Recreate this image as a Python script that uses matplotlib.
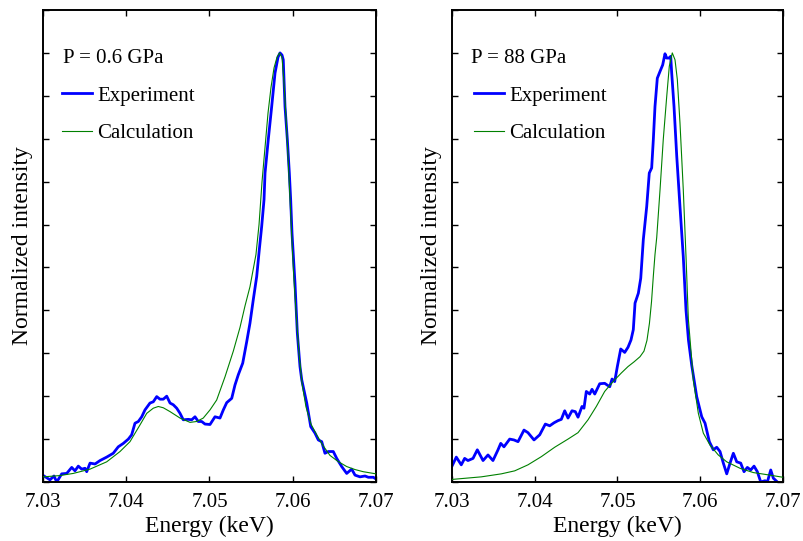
import matplotlib
matplotlib.use("Agg")
import matplotlib.pyplot as plt
from matplotlib.ticker import FormatStrFormatter

# ---------------- data ----------------
pressures = ["P = 0.6 GPa", "P = 88 GPa"]
x_ticks = [7.03, 7.04, 7.05, 7.06, 7.07]
y_ticks = [0.0, 0.1, 0.2, 0.3, 0.4, 0.5, 0.6, 0.7, 0.8, 0.9, 1.0, 1.1]

exp1_E = [7.03012, 7.03084, 7.03132, 7.03165, 7.03225, 7.03285, 7.03345, 7.03384, 7.03424, 7.03465,
          7.03505, 7.03525, 7.03565, 7.03625, 7.03685, 7.03765, 7.03844, 7.03904, 7.03965, 7.04025,
          7.04065, 7.04105, 7.04145, 7.04186, 7.04225, 7.04285, 7.04325, 7.04366, 7.04405, 7.04445,
          7.04486, 7.04526, 7.04565, 7.04606, 7.04646, 7.04685, 7.04745, 7.04786, 7.04826, 7.04865,
          7.04906, 7.04946, 7.05006, 7.05066, 7.05126, 7.05166, 7.05207, 7.05267, 7.05306, 7.05346,
          7.05399, 7.05447, 7.05486, 7.05526, 7.05567, 7.05598, 7.05627, 7.05655, 7.05667, 7.05706,
          7.05747, 7.05787, 7.05823, 7.05847, 7.05871, 7.05886, 7.05907, 7.05935, 7.05959, 7.05975,
          7.05991, 7.06027, 7.06055, 7.06087, 7.06108, 7.06168, 7.06216, 7.06267, 7.06307, 7.06348,
          7.06387, 7.06427, 7.06487, 7.06528, 7.06588, 7.06648, 7.06708, 7.06748, 7.06808, 7.06868,
          7.06908, 7.06968, 7.07000]
exp1_I = [0.014, 0.005, 0.014, 0.000, 0.019, 0.020, 0.034, 0.026, 0.037, 0.030,
          0.032, 0.024, 0.044, 0.042, 0.050, 0.058, 0.067, 0.082, 0.090, 0.100,
          0.110, 0.137, 0.141, 0.152, 0.168, 0.184, 0.187, 0.199, 0.193, 0.193,
          0.200, 0.184, 0.180, 0.172, 0.160, 0.145, 0.146, 0.145, 0.152, 0.141,
          0.141, 0.135, 0.134, 0.152, 0.149, 0.168, 0.185, 0.195, 0.226, 0.250,
          0.277, 0.327, 0.370, 0.425, 0.479, 0.541, 0.596, 0.658, 0.720, 0.798,
          0.875, 0.953, 0.990, 1.000, 0.995, 0.984, 0.875, 0.798, 0.720, 0.658,
          0.580, 0.463, 0.347, 0.269, 0.238, 0.184, 0.129, 0.114, 0.098, 0.094,
          0.067, 0.071, 0.071, 0.055, 0.036, 0.020, 0.030, 0.016, 0.012, 0.014,
          0.011, 0.011, 0.007]

calc1_E = [7.03004, 7.03204, 7.03364, 7.03565, 7.03765, 7.03925, 7.04045, 7.04165, 7.04246, 7.04325,
           7.04385, 7.04445, 7.04526, 7.04646, 7.04766, 7.04846, 7.04925, 7.05006, 7.05086, 7.05186,
           7.05286, 7.05366, 7.05426, 7.05486, 7.05558, 7.05595, 7.05631, 7.05667, 7.05703, 7.05739,
           7.05775, 7.05811, 7.05841, 7.05871, 7.05895, 7.05919, 7.05943, 7.05967, 7.05991, 7.06015,
           7.06045, 7.06075, 7.06111, 7.06159, 7.06219, 7.06287, 7.06363, 7.06447, 7.06543, 7.06648,
           7.06748, 7.06847, 7.07000]
calc1_I = [0.012, 0.015, 0.020, 0.030, 0.047, 0.071, 0.094, 0.133, 0.160, 0.172,
           0.176, 0.173, 0.164, 0.149, 0.139, 0.141, 0.149, 0.168, 0.191, 0.245,
           0.305, 0.360, 0.410, 0.455, 0.530, 0.600, 0.700, 0.780, 0.860, 0.920,
           0.965, 0.990, 1.000, 0.990, 0.930, 0.850, 0.760, 0.660, 0.560, 0.470,
           0.380, 0.300, 0.230, 0.175, 0.135, 0.110, 0.085, 0.062, 0.048, 0.036,
           0.029, 0.024, 0.019]

exp2_E = [7.03000, 7.03052, 7.03112, 7.03153, 7.03193, 7.03254, 7.03306, 7.03375, 7.03435, 7.03495,
          7.03556, 7.03589, 7.03628, 7.03697, 7.03749, 7.03798, 7.03870, 7.03918, 7.03991, 7.04060,
          7.04128, 7.04181, 7.04233, 7.04281, 7.04321, 7.04362, 7.04402, 7.04450, 7.04490, 7.04523,
          7.04571, 7.04595, 7.04623, 7.04664, 7.04692, 7.04725, 7.04785, 7.04845, 7.04906, 7.04934,
          7.04966, 7.04998, 7.05039, 7.05087, 7.05127, 7.05163, 7.05191, 7.05212, 7.05252, 7.05281,
          7.05312, 7.05353, 7.05384, 7.05413, 7.05433, 7.05453, 7.05481, 7.05514, 7.05546, 7.05574,
          7.05595, 7.05622, 7.05643, 7.05655, 7.05683, 7.05716, 7.05755, 7.05795, 7.05828, 7.05858,
          7.05897, 7.05957, 7.06018, 7.06058, 7.06110, 7.06158, 7.06199, 7.06239, 7.06279, 7.06320,
          7.06360, 7.06400, 7.06441, 7.06489, 7.06529, 7.06569, 7.06610, 7.06650, 7.06690, 7.06731,
          7.06783, 7.06811, 7.06852, 7.06883, 7.06932]
exp2_I = [0.037, 0.058, 0.040, 0.055, 0.050, 0.055, 0.075, 0.050, 0.063, 0.050,
          0.075, 0.090, 0.082, 0.100, 0.098, 0.094, 0.121, 0.115, 0.098, 0.110,
          0.135, 0.131, 0.138, 0.143, 0.146, 0.166, 0.149, 0.166, 0.164, 0.151,
          0.176, 0.172, 0.211, 0.205, 0.216, 0.205, 0.229, 0.230, 0.222, 0.240,
          0.234, 0.269, 0.310, 0.302, 0.314, 0.331, 0.355, 0.417, 0.440, 0.475,
          0.565, 0.642, 0.720, 0.732, 0.798, 0.875, 0.941, 0.957, 0.972, 0.998,
          0.988, 0.988, 0.992, 0.953, 0.875, 0.759, 0.642, 0.525, 0.400, 0.330,
          0.272, 0.199, 0.152, 0.137, 0.094, 0.075, 0.081, 0.071, 0.044, 0.019,
          0.044, 0.067, 0.047, 0.044, 0.024, 0.034, 0.028, 0.037, 0.024, 0.000,
          0.003, 0.000, 0.028, 0.009, 0.000]

calc2_E = [7.03000, 7.03354, 7.03596, 7.03758, 7.03918, 7.04079, 7.04241, 7.04402, 7.04523, 7.04644,
           7.04744, 7.04845, 7.04946, 7.05046, 7.05127, 7.05200, 7.05272, 7.05320, 7.05356, 7.05386,
           7.05411, 7.05433, 7.05453, 7.05474, 7.05514, 7.05553, 7.05595, 7.05626, 7.05662, 7.05695,
           7.05723, 7.05755, 7.05795, 7.05828, 7.05856, 7.05882, 7.05916, 7.05977, 7.06037, 7.06118,
           7.06218, 7.06320, 7.06480, 7.06641, 7.06843, 7.07000]
calc2_I = [0.006, 0.012, 0.019, 0.026, 0.040, 0.059, 0.081, 0.100, 0.115, 0.145,
           0.176, 0.211, 0.234, 0.254, 0.269, 0.280, 0.292, 0.305, 0.330, 0.370,
           0.420, 0.480, 0.530, 0.570, 0.681, 0.798, 0.899, 0.969, 1.000, 0.984,
           0.938, 0.837, 0.681, 0.525, 0.380, 0.320, 0.238, 0.160, 0.114, 0.086,
           0.063, 0.047, 0.032, 0.022, 0.016, 0.011]

series = [(exp1_E, exp1_I, calc1_E, calc1_I), (exp2_E, exp2_I, calc2_E, calc2_I)]

# ---------------- plotting ----------------
plt.rcParams['font.family'] = ['Liberation Serif', 'DejaVu Serif']

fig = plt.figure(figsize=(8.04, 5.41), dpi=100)
positions = [[43/804, 59/541, 333/804, 472/541],
             [452/804, 59/541, 331/804, 472/541]]
text_x = [0.060, 0.056]
legend_x = [0.057, 0.066]

for i, (pos, label, (eE, eI, cE, cI)) in enumerate(zip(positions, pressures, series)):
    ax = fig.add_axes(pos)
    ax.plot(eE, eI, color='#0000ff', lw=2.0, label='Experiment', zorder=2)
    ax.plot(cE, cI, color='#008000', lw=0.8, label='Calculation', zorder=3)
    ax.set_xlim(7.03, 7.07)
    ax.set_ylim(0, 1.1)
    ax.set_xticks(x_ticks)
    ax.xaxis.set_major_formatter(FormatStrFormatter('%.2f'))
    ax.set_yticks(y_ticks)
    ax.set_yticklabels([])
    ax.tick_params(direction='in', length=4.5, width=1.0, top=True, right=True,
                   labelsize=15, pad=8)
    for s in ax.spines.values():
        s.set_linewidth(1.4)
    ax.set_xlabel('Energy (keV)', fontsize=17, labelpad=3)
    ax.set_ylabel('Normalized intensity', fontsize=17)
    ax.yaxis.set_label_coords(-0.03, 0.5)
    ax.text(text_x[i], 0.898, label, transform=ax.transAxes, fontsize=15,
            ha='left', va='center')
    ax.legend(loc='upper left', bbox_to_anchor=(legend_x[i], 0.839), frameon=False,
              fontsize=15, handlelength=1.45, handletextpad=0.25,
              labelspacing=0.88, borderaxespad=0.0, borderpad=0.0)

fig.savefig('out.png', dpi=100)
